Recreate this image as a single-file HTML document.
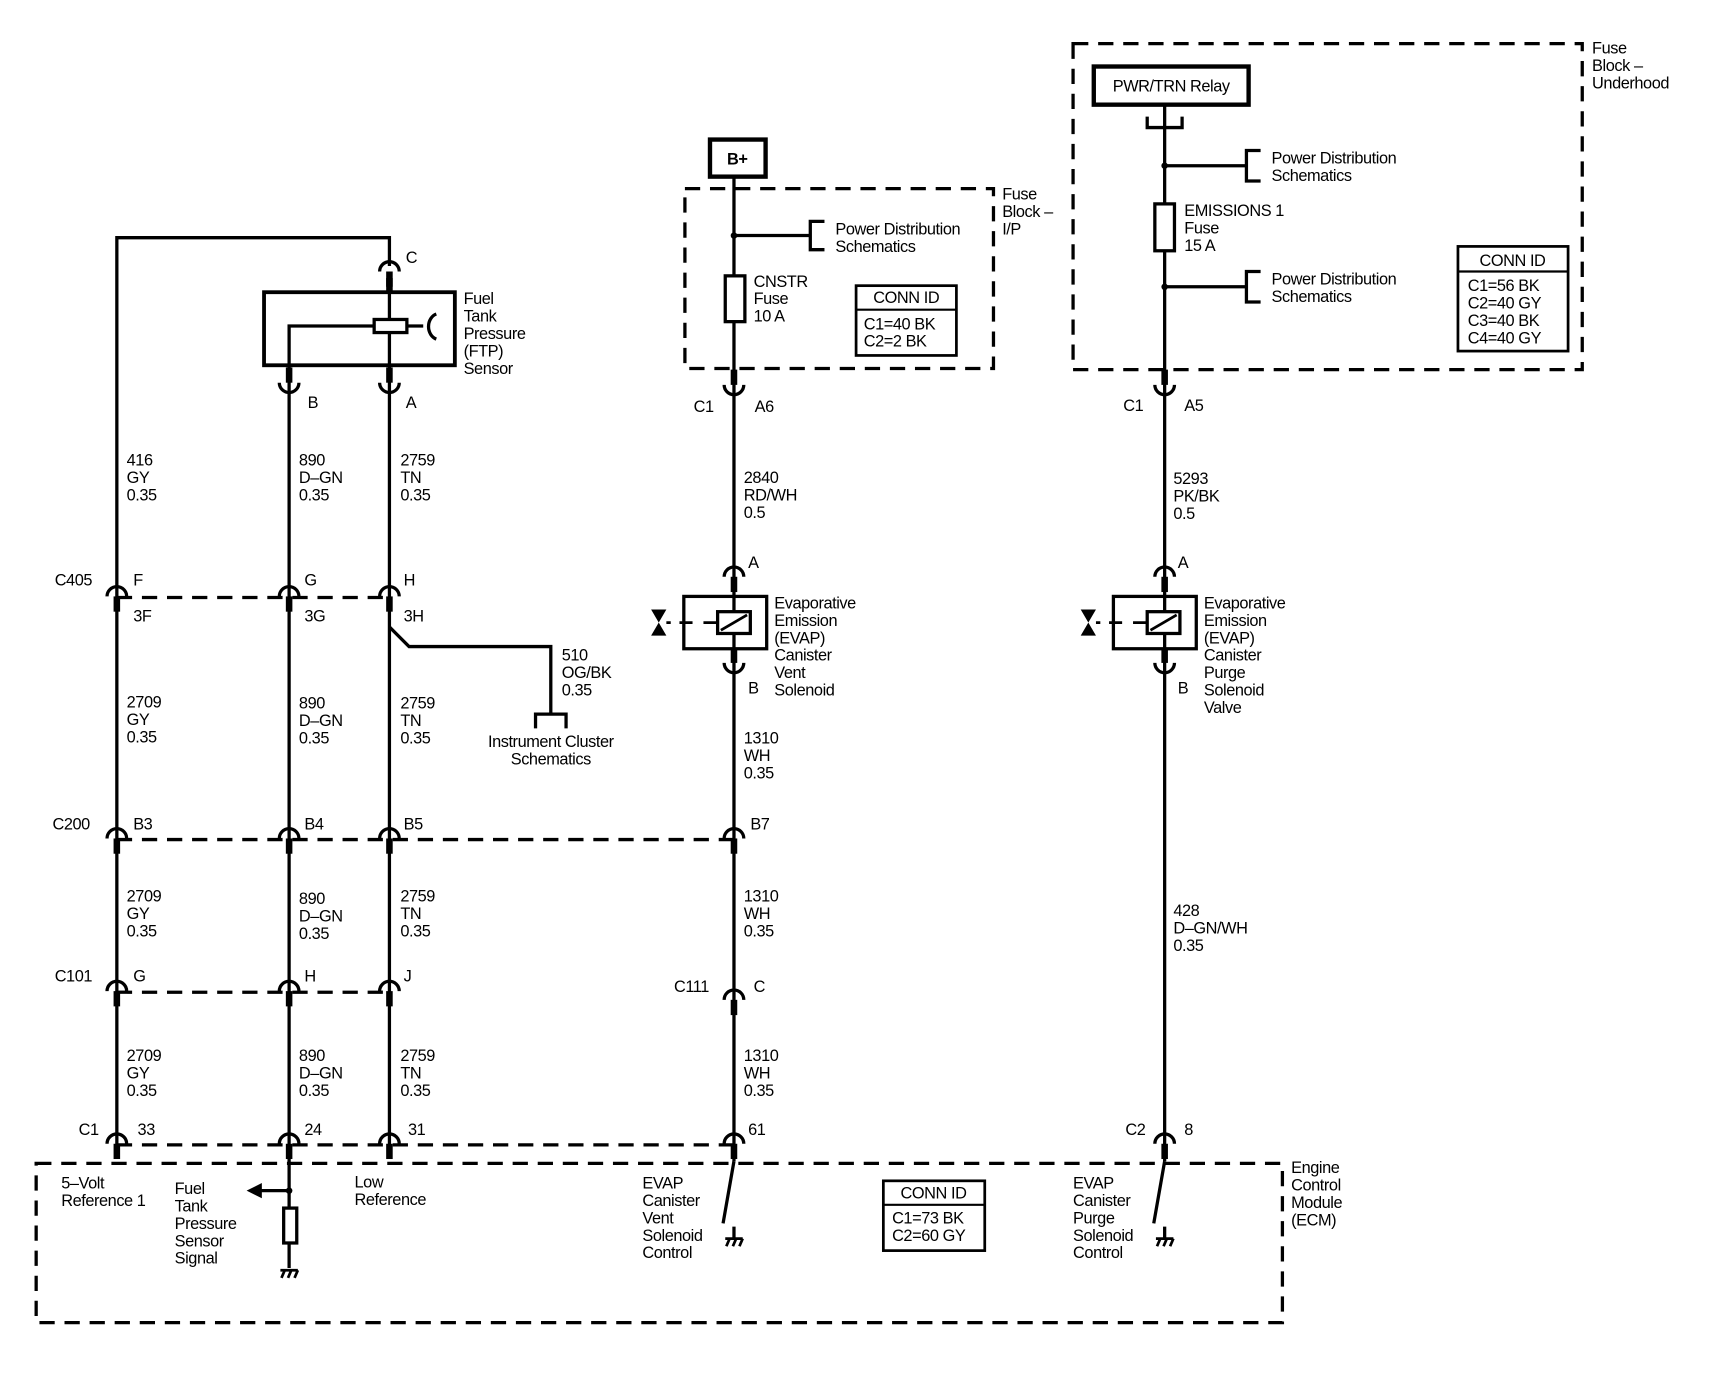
<!DOCTYPE html>
<html><head><meta charset="utf-8"><style>
html,body{margin:0;padding:0;background:#fff}
svg{display:block}
text{font-family:"Liberation Sans",sans-serif;font-size:15px;fill:#000;letter-spacing:-0.4px}
</style></head><body>
<svg width="1710" height="1376" viewBox="0 0 1568 1262" xmlns="http://www.w3.org/2000/svg">
<defs>
<g id="cd"><path d="M-9,9 A9,9 0 0 1 9,9" fill="none" stroke="#000" stroke-width="3"/><rect x="-3" y="9" width="6" height="14"/></g>
<g id="cu"><path d="M-9,-9 A9,9 0 0 0 9,-9" fill="none" stroke="#000" stroke-width="3"/><rect x="-3" y="-23" width="6" height="14"/></g>
<g id="gnd" stroke="#000" stroke-width="2.5" fill="none"><line x1="-8" y1="0" x2="8" y2="0"/><line x1="-7" y1="7" x2="-4" y2="0"/><line x1="-1" y1="7" x2="2" y2="0"/><line x1="5" y1="7" x2="8" y2="0"/></g>
<g id="sol"><rect x="-46" y="0" width="76" height="48" fill="none" stroke="#000" stroke-width="3"/><rect x="-15" y="14" width="30" height="20" fill="#fff" stroke="#000" stroke-width="3"/><line x1="-12" y1="31" x2="12" y2="17" stroke="#000" stroke-width="2.5"/><path d="M-15,24 H-28 M-38,24 H-50 M-58,24 H-62" stroke="#000" stroke-width="2.5"/><path d="M-76,12 H-62 L-76,36 H-62 Z" fill="#000"/></g>
</defs>
<g stroke="#000" stroke-width="3" fill="none">
<path d="M107,1050 V218 H357 V244"/>
<line x1="357" y1="253" x2="357" y2="1050"/>
<line x1="265" y1="345" x2="265" y2="1050"/>
<path d="M357,575 L375,593 H505 V655"/>
<path d="M491,668 V655 H519 V668"/>
<rect x="242" y="268" width="175" height="67" stroke-width="3.5"/>
<path d="M265,340 V299 H343"/>
<line x1="373" y1="299" x2="388" y2="299"/>
<path d="M400,288 A10,12 0 0 0 400,311"/>
<g stroke-dasharray="14,9">
<line x1="107" y1="548" x2="357" y2="548"/>
<line x1="107" y1="770" x2="673" y2="770"/>
<line x1="107" y1="910" x2="357" y2="910"/>
<line x1="107" y1="1050" x2="673" y2="1050"/>
<rect x="33" y="1067" width="1143" height="146"/>
<rect x="628" y="173" width="283" height="165"/>
<rect x="984" y="40" width="467" height="299"/>
</g>
<line x1="673" y1="162" x2="673" y2="1065"/>
<path d="M673,1065 L663,1122 M673,1125 V1135"/>
<rect x="651" y="128" width="51" height="34" stroke-width="4"/>
<path d="M673,216 H743 M756,203 H743 V229 H756"/>
<rect x="665" y="253" width="18" height="42" fill="#fff"/>
<rect x="785" y="262" width="92" height="64" stroke-width="2.5"/>
<line x1="785" y1="284" x2="877" y2="284" stroke-width="2"/>
<line x1="1068" y1="117" x2="1068" y2="1065"/>
<path d="M1068,1065 L1058,1122 M1068,1125 V1135"/>
<rect x="1003" y="61" width="142" height="35" stroke-width="4"/>
<path d="M1052,107 V117 H1084 V107 M1068,96 V117"/>
<path d="M1068,152 H1143 M1156,138 H1143 V166 H1156"/>
<path d="M1068,263 H1143 M1156,249 H1143 V277 H1156"/>
<rect x="1059" y="187" width="18" height="43" fill="#fff"/>
<rect x="1337" y="226" width="101" height="96" stroke-width="2.5"/>
<line x1="1337" y1="249" x2="1438" y2="249" stroke-width="2"/>
<line x1="265" y1="1050" x2="265" y2="1163"/>
<rect x="260" y="1108" width="12" height="32" fill="#fff"/>
<line x1="238" y1="1092" x2="265" y2="1092"/>
<rect x="810" y="1083" width="93" height="64" stroke-width="2.5"/>
<line x1="810" y1="1105" x2="903" y2="1105" stroke-width="2"/>
</g>
<rect x="343" y="293" width="30" height="12" fill="#fff" stroke="#000" stroke-width="3"/>
<rect x="354" y="255" width="6" height="13"/>
<circle cx="673" cy="216" r="3"/><circle cx="1068" cy="152" r="3"/><circle cx="1068" cy="263" r="3"/><circle cx="265" cy="1092" r="3"/>
<path d="M226,1092 L240,1085 V1099 Z"/>
<use href="#gnd" x="265" y="1165"/><use href="#gnd" x="673" y="1136"/><use href="#gnd" x="1068" y="1136"/>
<use href="#cd" x="357" y="240"/>
<use href="#cu" x="265" y="360"/><use href="#cu" x="357" y="360"/>
<use href="#cd" x="107" y="538"/><use href="#cd" x="265" y="538"/><use href="#cd" x="357" y="538"/>
<use href="#cd" x="107" y="760"/><use href="#cd" x="265" y="760"/><use href="#cd" x="357" y="760"/><use href="#cd" x="673" y="760"/>
<use href="#cd" x="107" y="900"/><use href="#cd" x="265" y="900"/><use href="#cd" x="357" y="900"/>
<use href="#cd" x="673" y="908"/>
<use href="#cd" x="107" y="1040"/><use href="#cd" x="265" y="1040"/><use href="#cd" x="357" y="1040"/><use href="#cd" x="673" y="1040"/><use href="#cd" x="1068" y="1040"/>
<use href="#cu" x="673" y="362"/><use href="#cu" x="1068" y="362"/>
<use href="#cd" x="673" y="520"/><use href="#cd" x="1068" y="520"/>
<use href="#sol" x="673" y="547"/><use href="#sol" x="1067" y="547"/>
<use href="#cu" x="673" y="617"/><use href="#cu" x="1068" y="617"/>
<text x="372" y="241">C</text>
<text x="425" y="279">Fuel</text><text x="425" y="295">Tank</text><text x="425" y="311">Pressure</text><text x="425" y="327">(FTP)</text><text x="425" y="343">Sensor</text>
<text x="282" y="374">B</text><text x="372" y="374">A</text>
<text x="116" y="427">416</text><text x="116" y="443">GY</text><text x="116" y="459">0.35</text>
<text x="274" y="427">890</text><text x="274" y="443">D–GN</text><text x="274" y="459">0.35</text>
<text x="367" y="427">2759</text><text x="367" y="443">TN</text><text x="367" y="459">0.35</text>
<text x="50" y="537">C405</text><text x="122" y="537">F</text><text x="279" y="537">G</text><text x="370" y="537">H</text>
<text x="122" y="570">3F</text><text x="279" y="570">3G</text><text x="370" y="570">3H</text>
<text x="515" y="606">510</text><text x="515" y="622">OG/BK</text><text x="515" y="638">0.35</text>
<text x="505" y="685" text-anchor="middle">Instrument Cluster</text><text x="505" y="701" text-anchor="middle">Schematics</text>
<text x="116" y="649">2709</text><text x="116" y="665">GY</text><text x="116" y="681">0.35</text>
<text x="274" y="650">890</text><text x="274" y="666">D–GN</text><text x="274" y="682">0.35</text>
<text x="367" y="650">2759</text><text x="367" y="666">TN</text><text x="367" y="682">0.35</text>
<text x="48" y="761">C200</text><text x="122" y="761">B3</text><text x="279" y="761">B4</text><text x="370" y="761">B5</text><text x="688" y="761">B7</text>
<text x="116" y="827">2709</text><text x="116" y="843">GY</text><text x="116" y="859">0.35</text>
<text x="274" y="829">890</text><text x="274" y="845">D–GN</text><text x="274" y="861">0.35</text>
<text x="367" y="827">2759</text><text x="367" y="843">TN</text><text x="367" y="859">0.35</text>
<text x="50" y="900">C101</text><text x="122" y="900">G</text><text x="279" y="900">H</text><text x="370" y="900">J</text>
<text x="618" y="910">C111</text><text x="691" y="910">C</text>
<text x="116" y="973">2709</text><text x="116" y="989">GY</text><text x="116" y="1005">0.35</text>
<text x="274" y="973">890</text><text x="274" y="989">D–GN</text><text x="274" y="1005">0.35</text>
<text x="367" y="973">2759</text><text x="367" y="989">TN</text><text x="367" y="1005">0.35</text>
<text x="682" y="973">1310</text><text x="682" y="989">WH</text><text x="682" y="1005">0.35</text>
<text x="682" y="827">1310</text><text x="682" y="843">WH</text><text x="682" y="859">0.35</text>
<text x="682" y="682">1310</text><text x="682" y="698">WH</text><text x="682" y="714">0.35</text>
<text x="72" y="1041">C1</text><text x="126" y="1041">33</text><text x="279" y="1041">24</text><text x="374" y="1041">31</text><text x="686" y="1041">61</text>
<text x="1032" y="1041">C2</text><text x="1086" y="1041">8</text>
<text x="56" y="1090">5–Volt</text><text x="56" y="1106">Reference 1</text>
<text x="160" y="1095">Fuel</text><text x="160" y="1111">Tank</text><text x="160" y="1127">Pressure</text><text x="160" y="1143">Sensor</text><text x="160" y="1159">Signal</text>
<text x="325" y="1089">Low</text><text x="325" y="1105">Reference</text>
<text x="589" y="1090">EVAP</text><text x="589" y="1106">Canister</text><text x="589" y="1122">Vent</text><text x="589" y="1138">Solenoid</text><text x="589" y="1154">Control</text>
<text x="984" y="1090">EVAP</text><text x="984" y="1106">Canister</text><text x="984" y="1122">Purge</text><text x="984" y="1138">Solenoid</text><text x="984" y="1154">Control</text>
<text x="856" y="1099" text-anchor="middle">CONN ID</text><text x="818" y="1122">C1=73 BK</text><text x="818" y="1138">C2=60 GY</text>
<text x="1184" y="1076">Engine</text><text x="1184" y="1092">Control</text><text x="1184" y="1108">Module</text><text x="1184" y="1124">(ECM)</text>
<text x="676" y="151" text-anchor="middle" font-weight="bold">B+</text>
<text x="919" y="183">Fuse</text><text x="919" y="199">Block –</text><text x="919" y="215">I/P</text>
<text x="766" y="215">Power Distribution</text><text x="766" y="231">Schematics</text>
<text x="691" y="263">CNSTR</text><text x="691" y="279">Fuse</text><text x="691" y="295">10 A</text>
<text x="831" y="278" text-anchor="middle">CONN ID</text><text x="792" y="302">C1=40 BK</text><text x="792" y="318">C2=2 BK</text>
<text x="636" y="378">C1</text><text x="692" y="378">A6</text>
<text x="682" y="443">2840</text><text x="682" y="459">RD/WH</text><text x="682" y="475">0.5</text>
<text x="686" y="521">A</text><text x="686" y="636">B</text>
<text x="710" y="558">Evaporative</text><text x="710" y="574">Emission</text><text x="710" y="590">(EVAP)</text><text x="710" y="606">Canister</text><text x="710" y="622">Vent</text><text x="710" y="638">Solenoid</text>
<text x="1074" y="84" text-anchor="middle">PWR/TRN Relay</text>
<text x="1460" y="49">Fuse</text><text x="1460" y="65">Block –</text><text x="1460" y="81">Underhood</text>
<text x="1166" y="150">Power Distribution</text><text x="1166" y="166">Schematics</text>
<text x="1086" y="198">EMISSIONS 1</text><text x="1086" y="214">Fuse</text><text x="1086" y="230">15 A</text>
<text x="1166" y="261">Power Distribution</text><text x="1166" y="277">Schematics</text>
<text x="1387" y="244" text-anchor="middle">CONN ID</text><text x="1346" y="267">C1=56 BK</text><text x="1346" y="283">C2=40 GY</text><text x="1346" y="299">C3=40 BK</text><text x="1346" y="315">C4=40 GY</text>
<text x="1030" y="377">C1</text><text x="1086" y="377">A5</text>
<text x="1076" y="444">5293</text><text x="1076" y="460">PK/BK</text><text x="1076" y="476">0.5</text>
<text x="1080" y="521">A</text><text x="1080" y="636">B</text>
<text x="1104" y="558">Evaporative</text><text x="1104" y="574">Emission</text><text x="1104" y="590">(EVAP)</text><text x="1104" y="606">Canister</text><text x="1104" y="622">Purge</text><text x="1104" y="638">Solenoid</text><text x="1104" y="654">Valve</text>
<text x="1076" y="840">428</text><text x="1076" y="856">D–GN/WH</text><text x="1076" y="872">0.35</text>
</svg>
</body></html>
